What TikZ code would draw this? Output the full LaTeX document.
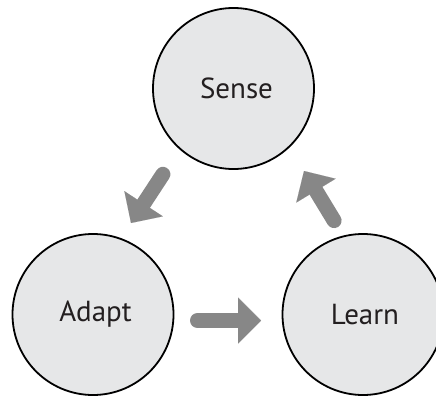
\documentclass[tikz,border=0pt]{standalone}
\usepackage{fontspec}
\setmainfont{PT Sans}
\usetikzlibrary{arrows.meta,calc}
\definecolor{circfill}{HTML}{E6E7E8}
\definecolor{arrgray}{HTML}{878787}
\definecolor{txtcol}{HTML}{231F20}
\begin{document}
\begin{tikzpicture}[x=1pt,y=1pt,
  stage/.style={circle,draw=black,line width=1.8pt,fill=circfill,minimum size=161pt,inner sep=0pt,
    font=\fontsize{29}{32}\selectfont,text=txtcol},
  bigarrow/.style={draw=arrgray,line width=15pt,line cap=round,
    -{Triangle[length=23pt,width=46pt,line width=0.01pt]},arrgray}]
\useasboundingbox (0,0) rectangle (436,-396);
\node[stage] (S) at (233.5,-88.5) {\hspace*{6pt}Sense};
\node[stage] (A) at (93,-314.5) {\hspace*{5pt}Adapt};
\node[stage] (L) at (363,-314.5) {\hspace*{4pt}Learn};
% arrow end points, placed relative to the circles
\coordinate (s1) at ($(S.center)+(-70.6,-85.8)$);
\coordinate (a1) at ($(A.center)+(38,91.5)$);
\coordinate (a2) at ($(A.center)+(104.5,-6)$);
\coordinate (l2) at ($(L.center)+(-102,-6)$);
\coordinate (l3) at ($(L.center)+(-28.9,93.9)$);
\coordinate (s3) at ($(S.center)+(70.5,-82.5)$);
\draw[bigarrow] (s1) -- (a1);
\draw[bigarrow] (a2) -- (l2);
\draw[bigarrow] (l3) -- (s3);
\end{tikzpicture}
\end{document}
